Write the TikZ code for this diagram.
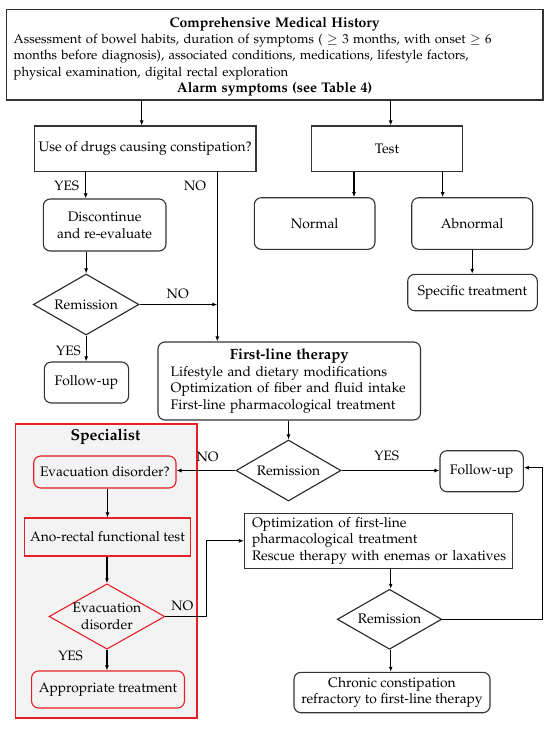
\documentclass[tikz,border=0pt]{standalone}
\usepackage[T1]{fontenc}
\usepackage{mathpazo}
\usetikzlibrary{shapes.geometric,arrows.meta,calc}
\definecolor{boxred}{RGB}{232,32,38}
\definecolor{panelgray}{RGB}{243,243,243}
\tikzset{
  every node/.style={font=\fontsize{13.8}{16.8}\selectfont, inner sep=0pt},
  sqbox/.style={draw=black!80, line width=1.1pt, align=center},
  rbox/.style={draw=black!80, line width=1.1pt, rounded corners=7pt, align=center},
  dia/.style={draw=black!85, line width=1.1pt, diamond, align=center, inner sep=0pt},
  redsq/.style={draw=boxred, line width=1.1pt, align=center},
  redr/.style={draw=boxred, line width=1.1pt, rounded corners=7pt, align=center},
  reddia/.style={draw=boxred, line width=1.1pt, diamond, align=center},
  arr/.style={draw=black, line width=1.1pt, -{Latex[length=5pt,width=4pt]}},
  lab/.style={font=\fontsize{13.6}{15}\selectfont}
}
\begin{document}
\begin{tikzpicture}[x=1pt,y=-1pt]
\useasboundingbox (0,0) rectangle (550,729);
\fill[white] (0,0) rectangle (550,729);
% specialist panel
\node[draw=boxred, line width=1.3pt, fill=panelgray, minimum width=181.2pt, minimum height=294pt] (panel) at (106.4,571) {};
\node[font=\fontsize{15.7}{18}\selectfont\bfseries] (spt) at (105.4,437) {Specialist};
% top box
\node[sqbox, minimum width=536.7pt, minimum height=90.7pt, text width=521.9pt, align=left,
      font=\fontsize{13}{16.4}\selectfont] (top) at (274.65,54.65)
 {\makebox[\linewidth]{\rule{0pt}{14pt}\fontsize{14}{16.4}\selectfont\textbf{Comprehensive Medical History}}\\
  \mbox{Assessment of bowel habits, duration of symptoms ( $\geq$ 3 months, with onset $\geq$ 6}\\
  \mbox{months before diagnosis), associated conditions, medications, lifestyle factors,}\\
  \mbox{physical examination, digital rectal exploration}\\
  \makebox[\linewidth]{\fontsize{14}{16.4}\selectfont\textbf{Alarm symptoms (see Table 4)}}};
\node[sqbox, minimum width=221.7pt, minimum height=45.7pt] (drugs) at (145.15,148.85) {Use of drugs causing constipation?};
\node[sqbox, minimum width=150.6pt, minimum height=45.7pt] (test) at (387,148.85) {Test};
\node[rbox, minimum width=122.7pt, minimum height=52pt] (disc) at (104.65,225) {Discontinue\\and re-evaluate};
\node[rbox, minimum width=120.7pt, minimum height=51.6pt] (normal) at (314.65,223.5) {Normal};
\node[rbox, minimum width=121pt, minimum height=51.6pt] (abn) at (472.2,223.5) {Abnormal};
\node[rbox, minimum width=129.6pt, minimum height=36.4pt] (spec) at (472.5,292.5) {Specific treatment};
\node[dia, minimum width=105.7pt, minimum height=61pt, aspect=1.7] (rem1) at (86.15,304.5) {Remission};
\node[rbox, minimum width=84.3pt, minimum height=41pt] (fu1) at (86.45,382.5) {Follow-up};
\node[rbox, minimum width=262.5pt, minimum height=78pt, text width=237.1pt, align=left] (flt) at (289.25,381)
 {\makebox[\linewidth]{\fontsize{14.9}{16.8}\selectfont\textbf{First-line therapy}}\\
  Lifestyle and dietary modifications\\
  Optimization of fiber and fluid intake\\
  First-line pharmacological treatment};
\node[dia, minimum width=105pt, minimum height=61pt, aspect=1.7] (rem2) at (288.5,470.5) {Remission};
\node[rbox, minimum width=83.3pt, minimum height=41pt] (fu2) at (481.65,471.2) {Follow-up};
\node[redr, minimum width=142.3pt, minimum height=32pt] (evq) at (104.85,472) {Evacuation disorder?};
\node[redsq, minimum width=166.6pt, minimum height=38pt] (ano) at (107.5,537) {Ano-rectal functional test};
\node[reddia, minimum width=114.9pt, minimum height=65pt, aspect=1.77] (evd) at (106.95,616.5) {Evacuation\\disorder};
\node[redr, minimum width=152.9pt, minimum height=37pt] (app) at (108,689.5) {Appropriate treatment};
\node[sqbox, minimum width=268.2pt, minimum height=55pt, text width=253.2pt, align=left] (opt) at (378.6,540.8)
 {\mbox{Optimization of first-line}\\
  \mbox{pharmacological treatment}\\
  \mbox{Rescue therapy with enemas or laxatives}};
\node[dia, minimum width=104.4pt, minimum height=60pt, aspect=1.74] (rem3) at (389.5,619.3) {Remission};
\node[rbox, minimum width=196pt, minimum height=40.4pt] (chr) at (392,692.5) {Chronic constipation\\refractory to first-line therapy};
% connectors
\draw[arr] ([xshift=-3.45pt]drugs.north |- top.south) -- ([xshift=-3.45pt]drugs.north);
\draw[arr] ([xshift=3.7pt]test.north |- top.south) -- ([xshift=3.7pt]test.north);
\draw[arr] ([xshift=-18.95pt]disc.north |- drugs.south) -- ([xshift=-18.95pt]disc.north);
\coordinate (nod) at ([xshift=72.15pt]drugs.south);
\draw[arr] (nod) -- (nod |- flt.north);
\draw[arr] (rem1.north |- disc.south) -- (rem1.north);
\draw[arr] (rem1.east) -- (rem1.east -| nod);
\draw[arr] (rem1.south) -- (rem1.south |- fu1.north);
\draw[arr] ([xshift=39.35pt]normal.north |- test.south) -- ([xshift=39.35pt]normal.north);
\draw[arr] ([xshift=-29.5pt]abn.north |- test.south) -- ([xshift=-29.5pt]abn.north);
\draw[arr] (abn.south) -- (abn.south |- spec.north);
\draw[arr] (flt.south -| rem2.north) -- (rem2.north);
\draw[arr] (rem2.west) -- (rem2.west -| evq.east);
\draw[arr] (rem2.east) -- (rem2.east -| fu2.west);
\draw[arr] (ano.north |- evq.south) -- (ano.north);
\draw[arr] (ano.south -| evd.north) -- (evd.north);
\draw[arr] (evd.east) -- ([xshift=41.1pt]evd.east) |- (opt.west);
\draw[arr] (evd.south) -- (evd.south |- app.north);
\draw[arr] ([xshift=1.2pt]rem3.north |- opt.south) -- ([xshift=1.2pt]rem3.north);
\draw[arr] ([xshift=1.2pt]rem3.south) -- ([xshift=1.2pt]rem3.south |- chr.north);
\draw[arr] (rem3.east) -- ([xshift=100.3pt]rem3.east) |- ([yshift=3.5pt]fu2.east);
% labels
\node[lab] (l1) at (66.7,186) {YES};
\node[lab] (l2) at (195,186) {NO};
\node[lab] (l3) at (177.7,294) {NO};
\node[lab] (l4) at (68.5,351) {YES};
\node[lab] (l5) at (207.6,457) {NO};
\node[lab] (l6) at (386.7,456) {YES};
\node[lab] (l7) at (182.3,606) {NO};
\node[lab] (l8) at (70.6,656) {YES};
\end{tikzpicture}
\end{document}
